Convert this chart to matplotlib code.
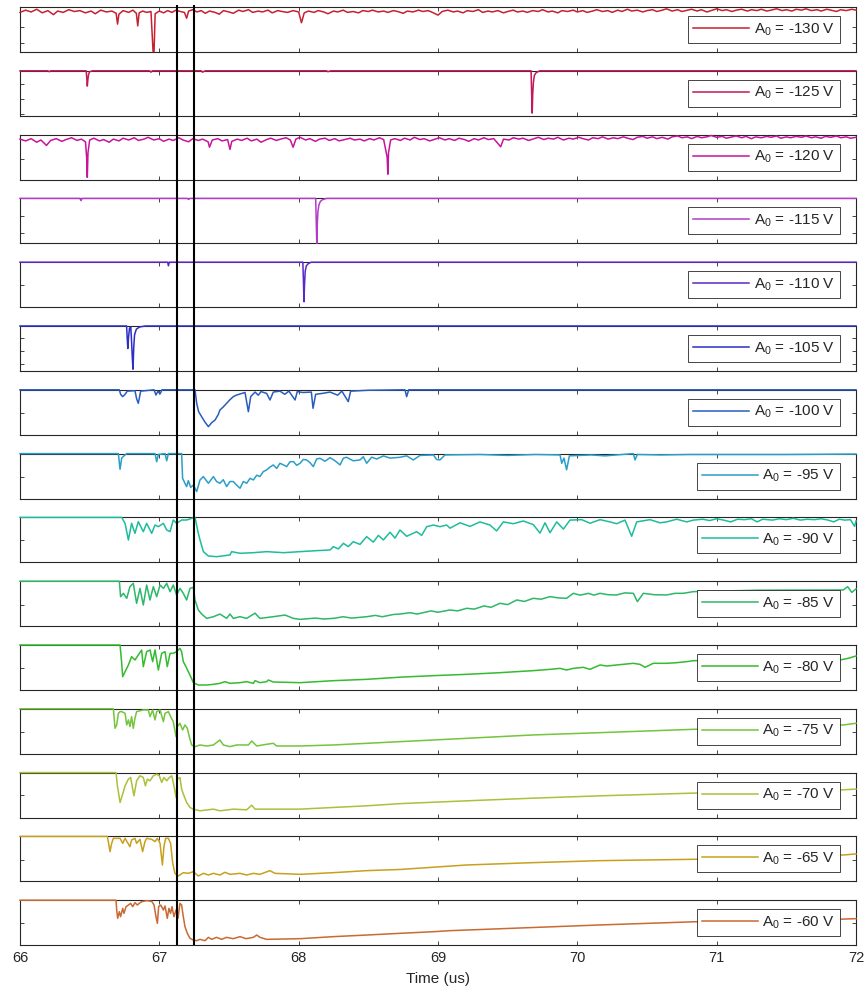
import numpy as np
import matplotlib.pyplot as plt

plt.rcParams['font.family'] = ['Liberation Sans', 'DejaVu Sans']
plt.rcParams['mathtext.fontset'] = 'custom'
plt.rcParams['mathtext.rm'] = 'Liberation Sans'
plt.rcParams['mathtext.it'] = 'Liberation Sans:italic'

# bias amplitude of each run, top panel first
bias_volts = [-130, -125, -120, -115, -110, -105, -100, -95, -90, -85, -80, -75, -70, -65, -60]

trace_colors = ['#c8202e', '#c4185a', '#c8149b', '#b23cc8', '#5a28c8', '#2d2dc8', '#2a5cc0',
                '#2a9ec8', '#1ebc9c', '#2bb868', '#34bb30', '#74c43c', '#a8c23a', '#c8a01e', '#c86a32']

# (time in us, drop below baseline as a fraction of the panel height)
trace_m130 = [
    (66.00, 0.12), (66.04, 0.07), (66.08, 0.11), (66.12, 0.05), (66.16, 0.13), (66.20, 0.08), (66.24, 0.17),
    (66.27, 0.09), (66.31, 0.12), (66.35, 0.06), (66.39, 0.10), (66.43, 0.08), (66.47, 0.13), (66.51, 0.09),
    (66.54, 0.15), (66.58, 0.07), (66.62, 0.11), (66.66, 0.09), (66.69, 0.14), (66.70, 0.38), (66.71, 0.16),
    (66.74, 0.08), (66.78, 0.12), (66.81, 0.07), (66.835, 0.14), (66.845, 0.42), (66.855, 0.13), (66.88, 0.09),
    (66.91, 0.12), (66.94, 0.10), (66.955, 0.99), (66.962, 0.99), (66.97, 0.15), (67.00, 0.09), (67.03, 0.13),
    (67.06, 0.08), (67.09, 0.12), (67.12, 0.07), (67.15, 0.10), (67.18, 0.12), (67.196, 0.25), (67.21, 0.09),
    (67.24, 0.06), (67.27, 0.11), (67.30, 0.08), (67.33, 0.14), (67.36, 0.09), (67.40, 0.12), (67.43, 0.16),
    (67.46, 0.08), (67.50, 0.11), (67.53, 0.14), (67.57, 0.07), (67.60, 0.10), (67.64, 0.06), (67.67, 0.12),
    (67.71, 0.09), (67.74, 0.11), (67.78, 0.07), (67.81, 0.13), (67.85, 0.08), (67.88, 0.10), (67.92, 0.12),
    (67.96, 0.08), (68.00, 0.11), (68.02, 0.35), (68.04, 0.13), (68.07, 0.09), (68.11, 0.12), (68.14, 0.08),
    (68.18, 0.11), (68.21, 0.15), (68.25, 0.09), (68.28, 0.11), (68.32, 0.07), (68.35, 0.12), (68.39, 0.10),
    (68.43, 0.13), (68.46, 0.08), (68.50, 0.10), (68.53, 0.07), (68.57, 0.11), (68.61, 0.09), (68.64, 0.12),
    (68.68, 0.08), (68.71, 0.10), (68.75, 0.14), (68.78, 0.09), (68.82, 0.11), (68.86, 0.07), (68.89, 0.10),
    (68.93, 0.08), (68.96, 0.12), (69.00, 0.18), (69.03, 0.10), (69.07, 0.07), (69.11, 0.11), (69.14, 0.09),
    (69.18, 0.13), (69.21, 0.08), (69.25, 0.10), (69.29, 0.06), (69.32, 0.12), (69.36, 0.09), (69.39, 0.11),
    (69.43, 0.08), (69.47, 0.13), (69.50, 0.10), (69.54, 0.07), (69.57, 0.11), (69.61, 0.09), (69.64, 0.12),
    (69.68, 0.08), (69.72, 0.10), (69.75, 0.06), (69.79, 0.11), (69.82, 0.09), (69.86, 0.13), (69.89, 0.08),
    (69.93, 0.10), (69.97, 0.07), (70.00, 0.11), (70.04, 0.08), (70.07, 0.12), (70.11, 0.09), (70.14, 0.06),
    (70.18, 0.10), (70.22, 0.08), (70.25, 0.12), (70.29, 0.07), (70.32, 0.10), (70.36, 0.05), (70.39, 0.09),
    (70.43, 0.07), (70.47, 0.11), (70.50, 0.08), (70.54, 0.06), (70.57, 0.10), (70.61, 0.07), (70.64, 0.04),
    (70.68, 0.09), (70.72, 0.06), (70.75, 0.10), (70.79, 0.07), (70.82, 0.05), (70.86, 0.09), (70.89, 0.06),
    (70.93, 0.11), (70.97, 0.07), (71.00, 0.04), (71.04, 0.08), (71.07, 0.06), (71.11, 0.10), (71.14, 0.07),
    (71.18, 0.05), (71.22, 0.09), (71.25, 0.06), (71.29, 0.08), (71.32, 0.05), (71.36, 0.09), (71.39, 0.07),
    (71.43, 0.04), (71.47, 0.08), (71.50, 0.06), (71.54, 0.09), (71.57, 0.05), (71.61, 0.07), (71.64, 0.04),
    (71.68, 0.08), (71.72, 0.06), (71.75, 0.09), (71.79, 0.05), (71.82, 0.07), (71.86, 0.10), (71.89, 0.06),
    (71.93, 0.08), (71.97, 0.05), (72.00, 0.07),
]

trace_m125 = [
    (66.00, 0.0), (66.20, 0.0), (66.21, 0.02), (66.22, 0.0), (66.475, 0.0), (66.480, 0.20), (66.483, 0.34),
    (66.487, 0.20), (66.492, 0.08), (66.50, 0.02), (66.52, 0.0), (66.93, 0.0), (66.94, 0.03), (66.95, 0.0),
    (67.30, 0.0), (67.31, 0.03), (67.33, 0.0), (68.20, 0.0), (68.21, 0.02), (68.23, 0.0), (69.668, 0.0),
    (69.672, 0.50), (69.676, 0.94), (69.680, 0.50), (69.685, 0.25), (69.692, 0.10), (69.705, 0.04),
    (69.73, 0.0), (72.00, 0.0),
]

trace_m120 = [
    (66.00, 0.10), (66.04, 0.14), (66.08, 0.09), (66.12, 0.17), (66.15, 0.12), (66.19, 0.24), (66.22, 0.13),
    (66.26, 0.09), (66.30, 0.15), (66.33, 0.11), (66.37, 0.07), (66.41, 0.13), (66.44, 0.10), (66.47, 0.16),
    (66.478, 0.50), (66.483, 0.95), (66.488, 0.40), (66.50, 0.12), (66.53, 0.08), (66.57, 0.14), (66.60, 0.11),
    (66.64, 0.17), (66.67, 0.10), (66.71, 0.14), (66.74, 0.08), (66.78, 0.12), (66.82, 0.07), (66.85, 0.13),
    (66.89, 0.10), (66.92, 0.06), (66.96, 0.12), (67.00, 0.09), (67.03, 0.15), (67.07, 0.10), (67.10, 0.13),
    (67.14, 0.07), (67.17, 0.12), (67.21, 0.16), (67.24, 0.09), (67.28, 0.13), (67.31, 0.10), (67.35, 0.16),
    (67.36, 0.28), (67.38, 0.12), (67.42, 0.09), (67.45, 0.14), (67.49, 0.11), (67.507, 0.33), (67.52, 0.15),
    (67.56, 0.10), (67.59, 0.13), (67.63, 0.08), (67.66, 0.14), (67.70, 0.10), (67.73, 0.17), (67.77, 0.11),
    (67.80, 0.08), (67.84, 0.13), (67.87, 0.10), (67.91, 0.07), (67.94, 0.12), (67.96, 0.28), (67.98, 0.10),
    (68.01, 0.06), (68.05, 0.12), (68.08, 0.09), (68.12, 0.15), (68.15, 0.10), (68.19, 0.08), (68.22, 0.13),
    (68.26, 0.09), (68.29, 0.14), (68.33, 0.11), (68.37, 0.08), (68.40, 0.12), (68.44, 0.10), (68.47, 0.14),
    (68.51, 0.09), (68.54, 0.12), (68.58, 0.07), (68.61, 0.11), (68.635, 0.50), (68.64, 0.88), (68.645, 0.40),
    (68.66, 0.12), (68.69, 0.09), (68.73, 0.13), (68.76, 0.08), (68.80, 0.12), (68.83, 0.06), (68.87, 0.11),
    (68.90, 0.09), (68.94, 0.14), (68.98, 0.10), (69.01, 0.07), (69.05, 0.12), (69.08, 0.09), (69.12, 0.13),
    (69.15, 0.08), (69.19, 0.11), (69.22, 0.15), (69.26, 0.09), (69.29, 0.12), (69.33, 0.07), (69.36, 0.11),
    (69.40, 0.09), (69.45, 0.27), (69.47, 0.10), (69.51, 0.12), (69.54, 0.07), (69.58, 0.10), (69.61, 0.08),
    (69.65, 0.13), (69.69, 0.09), (69.72, 0.06), (69.76, 0.11), (69.79, 0.08), (69.83, 0.10), (69.86, 0.06),
    (69.90, 0.12), (69.94, 0.08), (69.97, 0.10), (70.01, 0.06), (70.04, 0.09), (70.08, 0.12), (70.11, 0.07),
    (70.15, 0.09), (70.18, 0.05), (70.22, 0.10), (70.26, 0.07), (70.29, 0.09), (70.33, 0.05), (70.36, 0.08),
    (70.40, 0.11), (70.43, 0.06), (70.47, 0.04), (70.50, 0.08), (70.54, 0.05), (70.57, 0.09), (70.61, 0.06),
    (70.65, 0.10), (70.68, 0.05), (70.72, 0.03), (70.75, 0.07), (70.79, 0.05), (70.82, 0.09), (70.86, 0.04),
    (70.89, 0.07), (70.93, 0.05), (70.96, 0.02), (71.00, 0.06), (71.04, 0.04), (71.07, 0.08), (71.11, 0.05),
    (71.14, 0.03), (71.18, 0.07), (71.21, 0.04), (71.25, 0.09), (71.28, 0.05), (71.32, 0.07), (71.36, 0.04),
    (71.39, 0.06), (71.43, 0.03), (71.46, 0.08), (71.50, 0.05), (71.53, 0.07), (71.57, 0.04), (71.61, 0.06),
    (71.64, 0.03), (71.68, 0.07), (71.71, 0.05), (71.75, 0.08), (71.78, 0.04), (71.82, 0.06), (71.86, 0.03),
    (71.89, 0.07), (71.93, 0.05), (71.96, 0.08), (72.00, 0.06),
]

trace_m115 = [
    (66.00, 0.0), (66.43, 0.0), (66.438, 0.05), (66.445, 0.0), (67.20, 0.0), (67.21, 0.02), (67.22, 0.0),
    (68.122, 0.0), (68.126, 0.50), (68.130, 1.00), (68.134, 0.55), (68.138, 0.30), (68.145, 0.15),
    (68.155, 0.07), (68.17, 0.03), (68.20, 0.0), (72.00, 0.0),
]

trace_m110 = [
    (66.00, 0.0), (67.06, 0.0), (67.065, 0.08), (67.072, 0.0), (68.030, 0.0), (68.034, 0.40), (68.038, 0.88),
    (68.042, 0.50), (68.047, 0.20), (68.055, 0.08), (68.07, 0.03), (68.09, 0.0), (72.00, 0.0),
]

trace_m105 = [
    (66.00, 0.0), (66.765, 0.0), (66.770, 0.30), (66.774, 0.50), (66.779, 0.25), (66.786, 0.05),
    (66.795, 0.02), (66.800, 0.30), (66.806, 0.70), (66.811, 0.96), (66.816, 0.50), (66.822, 0.20),
    (66.835, 0.07), (66.86, 0.02), (66.90, 0.0), (72.00, 0.0),
]

trace_m100 = [
    (66.00, 0.0), (66.713, 0.0), (66.722, 0.10), (66.737, 0.152), (66.754, 0.10), (66.770, 0.03), (66.825, 0.02),
    (66.837, 0.20), (66.849, 0.30), (66.866, 0.03), (66.962, 0.0), (66.976, 0.116), (66.990, 0.03),
    (67.005, 0.093), (67.019, 0.0), (67.256, 0.0), (67.268, 0.30), (67.282, 0.486), (67.304, 0.60),
    (67.328, 0.72), (67.352, 0.819), (67.376, 0.73), (67.400, 0.671), (67.423, 0.55), (67.435, 0.449),
    (67.459, 0.38), (67.483, 0.30), (67.507, 0.22), (67.531, 0.152), (67.555, 0.116), (67.579, 0.093),
    (67.615, 0.06), (67.639, 0.486), (67.656, 0.15), (67.687, 0.05), (67.71, 0.12), (67.73, 0.04),
    (67.770, 0.08), (67.794, 0.226), (67.818, 0.05), (67.866, 0.03), (67.90, 0.10), (67.93, 0.03),
    (67.974, 0.226), (67.990, 0.04), (68.03, 0.06), (68.091, 0.05), (68.103, 0.411), (68.122, 0.10),
    (68.17, 0.08), (68.225, 0.05), (68.28, 0.12), (68.31, 0.03), (68.356, 0.263), (68.373, 0.03),
    (68.50, 0.01), (68.763, 0.0), (68.775, 0.152), (68.790, 0.0), (72.00, 0.0),
]

trace_m95 = [
    (66.00, 0.0), (66.706, 0.0), (66.718, 0.348), (66.730, 0.10), (66.746, 0.05), (66.766, 0.0), (66.969, 0.0),
    (66.981, 0.18), (66.993, 0.02), (67.041, 0.0), (67.053, 0.16), (67.065, 0.0), (67.160, 0.0),
    (67.167, 0.548), (67.184, 0.66), (67.196, 0.733), (67.208, 0.60), (67.225, 0.75), (67.244, 0.70),
    (67.268, 0.844), (67.292, 0.585), (67.316, 0.511), (67.352, 0.659), (67.388, 0.511), (67.411, 0.62),
    (67.435, 0.66), (67.459, 0.58), (67.483, 0.733), (67.507, 0.62), (67.531, 0.622), (67.555, 0.70),
    (67.579, 0.77), (67.603, 0.62), (67.627, 0.659), (67.651, 0.55), (67.675, 0.585), (67.699, 0.48),
    (67.722, 0.511), (67.746, 0.40), (67.770, 0.363), (67.794, 0.30), (67.818, 0.252), (67.842, 0.33),
    (67.866, 0.215), (67.890, 0.25), (67.914, 0.289), (67.938, 0.18), (67.962, 0.178), (67.986, 0.26),
    (68.010, 0.215), (68.033, 0.13), (68.057, 0.141), (68.081, 0.20), (68.105, 0.289), (68.129, 0.12),
    (68.153, 0.104), (68.189, 0.17), (68.225, 0.09), (68.261, 0.16), (68.297, 0.252), (68.321, 0.10),
    (68.344, 0.082), (68.392, 0.16), (68.440, 0.141), (68.464, 0.07), (68.488, 0.215), (68.524, 0.08),
    (68.560, 0.12), (68.608, 0.052), (68.656, 0.10), (68.727, 0.082), (68.775, 0.05), (68.823, 0.141),
    (68.871, 0.04), (68.967, 0.031), (68.990, 0.13), (69.014, 0.141), (69.050, 0.03), (69.30, 0.02),
    (69.50, 0.04), (69.70, 0.02), (69.876, 0.03), (69.888, 0.215), (69.904, 0.10), (69.923, 0.36),
    (69.943, 0.05), (70.10, 0.03), (70.20, 0.05), (70.402, 0.0), (70.414, 0.141), (70.431, 0.02),
    (70.60, 0.03), (70.80, 0.02), (71.00, 0.02), (71.50, 0.02), (72.00, 0.01),
]

trace_m90 = [
    (66.00, 0.0), (66.730, 0.0), (66.754, 0.132), (66.778, 0.502), (66.801, 0.132), (66.825, 0.354),
    (66.849, 0.095), (66.885, 0.317), (66.909, 0.132), (66.945, 0.354), (66.969, 0.169), (66.993, 0.206),
    (67.029, 0.132), (67.053, 0.28), (67.077, 0.317), (67.100, 0.058), (67.124, 0.132), (67.160, 0.058),
    (67.196, 0.058), (67.232, 0.021), (67.256, 0.0), (67.280, 0.354), (67.292, 0.502), (67.316, 0.761),
    (67.352, 0.858), (67.411, 0.873), (67.507, 0.835), (67.519, 0.761), (67.579, 0.798), (67.675, 0.784),
    (67.770, 0.761), (67.890, 0.784), (68.010, 0.761), (68.129, 0.739), (68.225, 0.724), (68.249, 0.65),
    (68.285, 0.70), (68.321, 0.576), (68.356, 0.65), (68.392, 0.539), (68.440, 0.60), (68.488, 0.428),
    (68.536, 0.55), (68.572, 0.40), (68.608, 0.50), (68.656, 0.33), (68.691, 0.46), (68.727, 0.28),
    (68.775, 0.42), (68.847, 0.317), (68.883, 0.40), (68.919, 0.206), (68.967, 0.169), (69.014, 0.206),
    (69.062, 0.169), (69.086, 0.24), (69.158, 0.12), (69.230, 0.20), (69.301, 0.10), (69.373, 0.17),
    (69.421, 0.30), (69.469, 0.10), (69.541, 0.14), (69.612, 0.08), (69.684, 0.16), (69.732, 0.35),
    (69.768, 0.12), (69.804, 0.34), (69.852, 0.10), (69.900, 0.26), (69.947, 0.06), (70.031, 0.05),
    (70.091, 0.13), (70.163, 0.05), (70.234, 0.10), (70.282, 0.14), (70.342, 0.06), (70.390, 0.42),
    (70.426, 0.10), (70.522, 0.05), (70.593, 0.12), (70.641, 0.10), (70.713, 0.04), (70.785, 0.10),
    (70.833, 0.06), (70.90, 0.04), (70.95, 0.07), (71.00, 0.03), (71.05, 0.06), (71.10, 0.10), (71.15, 0.04),
    (71.20, 0.05), (71.25, 0.03), (71.29, 0.10), (71.33, 0.04), (71.40, 0.06), (71.45, 0.03), (71.50, 0.05),
    (71.55, 0.02), (71.60, 0.06), (71.65, 0.04), (71.70, 0.05), (71.75, 0.03), (71.80, 0.06), (71.84, 0.10),
    (71.88, 0.04), (71.92, 0.06), (71.96, 0.05), (71.99, 0.20), (72.00, 0.08),
]

trace_m85 = [
    (66.00, 0.0), (66.713, 0.0), (66.722, 0.344), (66.742, 0.270), (66.766, 0.381), (66.789, 0.122),
    (66.813, 0.048), (66.837, 0.492), (66.861, 0.159), (66.885, 0.529), (66.909, 0.085), (66.933, 0.418),
    (66.957, 0.122), (66.981, 0.344), (67.005, 0.085), (67.029, 0.159), (67.053, 0.048), (67.077, 0.233),
    (67.100, 0.085), (67.124, 0.307), (67.148, 0.159), (67.172, 0.270), (67.196, 0.418), (67.220, 0.159),
    (67.244, 0.137), (67.256, 0.418), (67.280, 0.641), (67.304, 0.73), (67.340, 0.826), (67.388, 0.789),
    (67.435, 0.73), (67.483, 0.826), (67.507, 0.73), (67.531, 0.826), (67.579, 0.789), (67.627, 0.826),
    (67.687, 0.71), (67.722, 0.826), (67.818, 0.789), (67.902, 0.752), (67.962, 0.826), (68.010, 0.848),
    (68.12, 0.82), (68.18, 0.84), (68.249, 0.826), (68.32, 0.79), (68.38, 0.82), (68.488, 0.789), (68.55, 0.76),
    (68.60, 0.79), (68.68, 0.74), (68.727, 0.73), (68.80, 0.70), (68.85, 0.73), (68.95, 0.66), (69.00, 0.69),
    (69.086, 0.639), (69.14, 0.66), (69.206, 0.602), (69.26, 0.62), (69.33, 0.55), (69.38, 0.58),
    (69.445, 0.491), (69.50, 0.52), (69.565, 0.417), (69.62, 0.45), (69.684, 0.380), (69.74, 0.40),
    (69.804, 0.343), (69.86, 0.37), (69.923, 0.380), (69.971, 0.269), (70.02, 0.31), (70.08, 0.27),
    (70.12, 0.31), (70.163, 0.269), (70.22, 0.30), (70.282, 0.306), (70.34, 0.26), (70.402, 0.269),
    (70.431, 0.454), (70.474, 0.269), (70.55, 0.30), (70.641, 0.306), (70.70, 0.27), (70.761, 0.269),
    (70.833, 0.232), (71.30, 0.20), (71.909, 0.195), (71.94, 0.121), (71.97, 0.25), (72.00, 0.17),
]

trace_m80 = [
    (66.00, 0.0), (66.718, 0.0), (66.730, 0.407), (66.737, 0.704), (66.754, 0.593), (66.778, 0.444),
    (66.801, 0.259), (66.825, 0.333), (66.849, 0.222), (66.873, 0.111), (66.885, 0.481), (66.909, 0.148),
    (66.933, 0.111), (66.952, 0.37), (66.969, 0.111), (66.993, 0.556), (67.017, 0.185), (67.041, 0.148),
    (67.057, 0.481), (67.077, 0.185), (67.100, 0.185), (67.124, 0.148), (67.148, 0.074), (67.160, 0.148),
    (67.172, 0.37), (67.191, 0.481), (67.208, 0.593), (67.225, 0.704), (67.244, 0.837), (67.280, 0.889),
    (67.340, 0.889), (67.388, 0.874), (67.435, 0.852), (67.471, 0.815), (67.507, 0.852), (67.579, 0.837),
    (67.627, 0.815), (67.675, 0.852), (67.687, 0.793), (67.722, 0.837), (67.770, 0.815), (67.782, 0.778),
    (67.818, 0.822), (68.010, 0.837), (68.249, 0.793), (68.488, 0.763), (68.727, 0.715), (68.967, 0.681),
    (69.206, 0.652), (69.445, 0.615), (69.684, 0.57), (69.804, 0.541), (69.876, 0.519), (69.923, 0.556),
    (69.971, 0.519), (70.043, 0.496), (70.091, 0.541), (70.163, 0.444), (70.211, 0.467), (70.282, 0.444),
    (70.402, 0.407), (70.450, 0.43), (70.486, 0.496), (70.545, 0.407), (70.641, 0.407), (70.713, 0.393),
    (70.785, 0.37), (70.833, 0.348), (71.885, 0.333), (71.945, 0.296), (72.00, 0.244),
]

trace_m75 = [
    (66.00, 0.0), (66.670, 0.0), (66.682, 0.433), (66.694, 0.359), (66.706, 0.10), (66.718, 0.063),
    (66.730, 0.063), (66.754, 0.10), (66.766, 0.359), (66.778, 0.248), (66.789, 0.396), (66.801, 0.174),
    (66.813, 0.433), (66.825, 0.211), (66.837, 0.063), (66.885, 0.026), (66.921, 0.026), (66.933, 0.174),
    (66.952, 0.026), (66.969, 0.248), (66.981, 0.063), (67.005, 0.026), (67.029, 0.285), (67.041, 0.10),
    (67.065, 0.063), (67.081, 0.174), (67.100, 0.285), (67.120, 0.619), (67.129, 0.396), (67.148, 0.322),
    (67.167, 0.47), (67.184, 0.359), (67.201, 0.433), (67.215, 0.619), (67.232, 0.804), (67.256, 0.841),
    (67.292, 0.804), (67.340, 0.826), (67.388, 0.804), (67.435, 0.693), (67.459, 0.804), (67.507, 0.841),
    (67.555, 0.804), (67.639, 0.804), (67.663, 0.716), (67.699, 0.826), (67.770, 0.789), (67.818, 0.767),
    (67.842, 0.826), (68.010, 0.826), (68.249, 0.804), (68.488, 0.767), (68.727, 0.73), (69.206, 0.656),
    (69.684, 0.581), (70.163, 0.53), (70.833, 0.456), (71.909, 0.359), (72.00, 0.322),
]

trace_m70 = [
    (66.00, 0.0), (66.689, 0.0), (66.699, 0.293), (66.718, 0.664), (66.737, 0.479), (66.754, 0.293),
    (66.778, 0.145), (66.794, 0.108), (66.809, 0.367), (66.818, 0.516), (66.837, 0.182), (66.861, 0.071),
    (66.885, 0.108), (66.900, 0.293), (66.914, 0.145), (66.933, 0.182), (66.957, 0.071), (66.981, 0.034),
    (67.000, 0.071), (67.017, 0.219), (67.033, 0.108), (67.053, 0.182), (67.072, 0.108), (67.089, 0.071),
    (67.105, 0.293), (67.120, 0.553), (67.129, 0.145), (67.148, 0.108), (67.160, 0.367), (67.177, 0.516),
    (67.196, 0.664), (67.220, 0.775), (67.244, 0.812), (67.292, 0.849), (67.388, 0.812), (67.435, 0.849),
    (67.531, 0.812), (67.627, 0.827), (67.663, 0.724), (67.687, 0.812), (67.770, 0.812), (68.010, 0.812),
    (68.249, 0.775), (68.488, 0.738), (68.727, 0.69), (69.206, 0.627), (69.684, 0.568), (70.163, 0.516),
    (70.833, 0.456), (71.909, 0.382), (72.00, 0.367),
]

trace_m65 = [
    (66.00, 0.0), (66.627, 0.0), (66.636, 0.154), (66.646, 0.339), (66.658, 0.154), (66.670, 0.043),
    (66.718, 0.043), (66.737, 0.154), (66.754, 0.043), (66.789, 0.228), (66.801, 0.079), (66.825, 0.043),
    (66.837, 0.154), (66.861, 0.065), (66.880, 0.339), (66.897, 0.116), (66.909, 0.043), (66.945, 0.065),
    (66.969, 0.116), (66.986, 0.043), (67.005, 0.154), (67.022, 0.635), (67.033, 0.228), (67.045, 0.043),
    (67.065, 0.043), (67.081, 0.154), (67.096, 0.598), (67.112, 0.821), (67.136, 0.88), (67.172, 0.806),
    (67.208, 0.821), (67.244, 0.784), (67.280, 0.88), (67.316, 0.821), (67.352, 0.858), (67.388, 0.821),
    (67.435, 0.858), (67.471, 0.798), (67.507, 0.843), (67.579, 0.821), (67.627, 0.858), (67.675, 0.821),
    (67.722, 0.843), (67.794, 0.761), (67.830, 0.821), (68.010, 0.843), (68.249, 0.806), (68.488, 0.761),
    (68.727, 0.735), (69.206, 0.635), (69.684, 0.583), (70.163, 0.539), (70.833, 0.509), (71.909, 0.413),
    (72.00, 0.39),
]

trace_m60 = [
    (66.00, 0.0), (66.689, 0.0), (66.694, 0.218), (66.701, 0.403), (66.713, 0.255), (66.722, 0.366),
    (66.737, 0.181), (66.746, 0.292), (66.761, 0.144), (66.778, 0.107), (66.794, 0.07), (66.809, 0.144),
    (66.825, 0.055), (66.842, 0.107), (66.856, 0.07), (66.873, 0.033), (66.909, 0.01), (66.945, 0.025),
    (66.962, 0.107), (66.976, 0.366), (66.986, 0.514), (66.995, 0.144), (67.010, 0.107), (67.029, 0.218),
    (67.041, 0.129), (67.057, 0.403), (67.069, 0.181), (67.081, 0.292), (67.091, 0.144), (67.105, 0.366),
    (67.120, 0.218), (67.134, 0.403), (67.148, 0.07), (67.160, 0.107), (67.172, 0.366), (67.184, 0.588),
    (67.201, 0.736), (67.220, 0.848), (67.244, 0.885), (67.268, 0.90), (67.292, 0.87), (67.328, 0.90),
    (67.352, 0.825), (67.376, 0.87), (67.411, 0.825), (67.447, 0.87), (67.483, 0.825), (67.531, 0.855),
    (67.579, 0.81), (67.622, 0.855), (67.675, 0.825), (67.699, 0.774), (67.722, 0.825), (67.770, 0.87),
    (68.010, 0.855), (68.249, 0.81), (68.488, 0.774), (68.727, 0.736), (68.967, 0.70), (69.086, 0.677),
    (70.163, 0.55), (70.833, 0.48), (71.909, 0.42), (72.00, 0.41),
]

traces = [trace_m130, trace_m125, trace_m120, trace_m115, trace_m110, trace_m105, trace_m100,
          trace_m95, trace_m90, trace_m85, trace_m80, trace_m75, trace_m70, trace_m65, trace_m60]

# inner tick marks on the left/right edge of each panel
ytick_marks = [[0.44, 0.80], [0.30, 0.63, 0.955], [0.55], [0.39, 0.78], [0.50], [0.27, 0.56, 0.85],
               [0.52], [0.51], [0.50], [0.53], [0.52], [0.51], [0.50], [0.52], [0.51]]

marker_times = [67.13, 67.25]
time_ticks = [66, 67, 68, 69, 70, 71, 72]

W, H = 864, 991
fig = plt.figure(figsize=(W / 100, H / 100), dpi=100)
left, width = 20 / W, 836 / W
ink = '#262626'

axes = []
for i, (volts, pts, color, yt) in enumerate(zip(bias_volts, traces, trace_colors, ytick_marks)):
    top = 7 + i * 63.8
    ax = fig.add_axes([left, 1 - (top + 45) / H, width, 45 / H])
    t, d = np.array(pts).T
    ax.plot(t, d, color=color, lw=1.1, clip_on=False, zorder=3,
            label=f"A$_\\mathrm{{0}}$ = {volts} V")
    ax.set_xlim(66, 72)
    ax.set_ylim(1, 0)   # drops go downward
    ax.set_xticks(time_ticks)
    ax.set_yticks(yt)
    last = i == len(bias_volts) - 1
    ax.tick_params(direction='in', length=3, width=0.6, color=ink, top=True, right=True,
                   labelleft=False, labelbottom=last, labelsize=10.5, labelcolor=ink, pad=4)
    for s in ax.spines.values():
        s.set_linewidth(0.8)
        s.set_color(ink)
    leg = ax.legend(loc='center right', fontsize=11, handlelength=3.65, handletextpad=0.3,
                    borderpad=0.35, borderaxespad=1.05, fancybox=False, edgecolor=ink,
                    framealpha=1)
    leg.get_frame().set_linewidth(0.6)
    for txt in leg.get_texts():
        txt.set_color(ink)
    axes.append(ax)

axes[-1].set_xlabel('Time (us)', fontsize=11, color=ink, labelpad=5)

# the two timing markers run through every panel
over = fig.add_axes([left, 1 - 945.2 / H, width, 940.2 / H])
over.set_xlim(66, 72)
over.set_ylim(0, 1)
over.axis('off')
over.patch.set_alpha(0)
for tm in marker_times:
    over.axvline(tm, color='black', lw=1.5)

fig.savefig('out.png', dpi=100)
